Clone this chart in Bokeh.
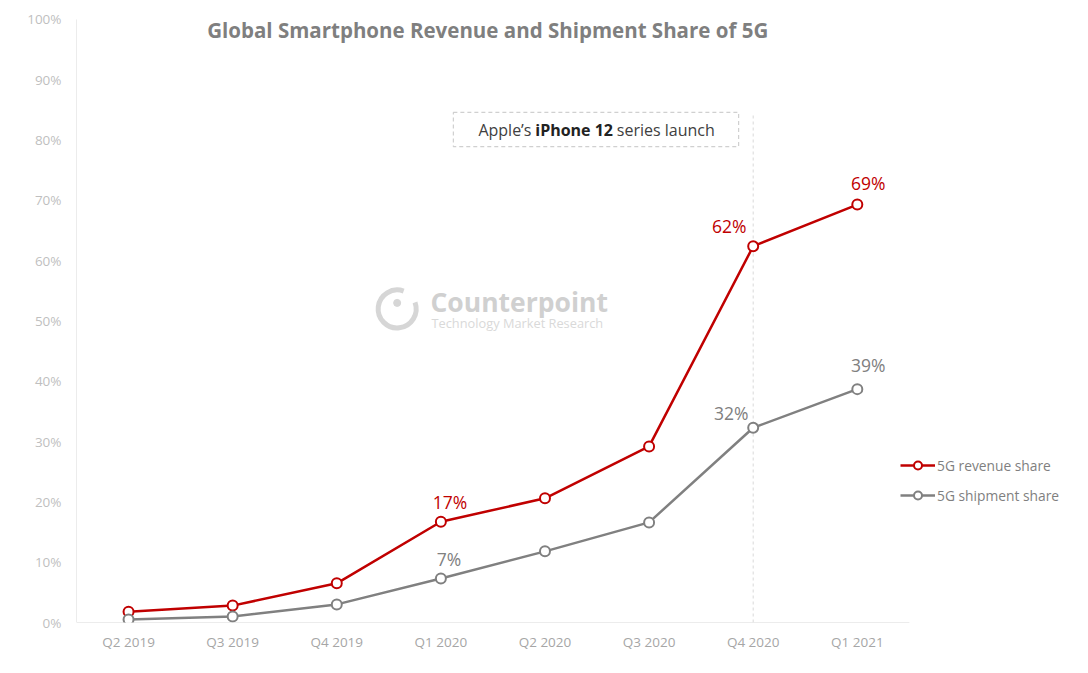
from bokeh.plotting import figure
from bokeh.models import (ColumnDataSource, Label, Legend, LegendItem, Range1d,
                          PrintfTickFormatter, FixedTicker)
from bokeh.core.properties import value
from bokeh.embed import file_html
from bokeh.resources import INLINE

quarters = ["Q2 2019", "Q3 2019", "Q4 2019", "Q1 2020", "Q2 2020", "Q3 2020", "Q4 2020", "Q1 2021"]
revenue_share = [1.8, 2.8, 6.5, 16.7, 20.6, 29.2, 62.4, 69.3]
shipment_share = [0.5, 1.0, 3.0, 7.3, 11.8, 16.6, 32.3, 38.7]
y_ticks = [0, 10, 20, 30, 40, 50, 60, 70, 80, 90, 100]
labelled = ["Q1 2020", "Q4 2020", "Q1 2021"]
launch_quarter = "Q4 2020"

RED = "#c00000"
GRAY = "#808080"
FONT = "Open Sans"

# category centres on a numeric scale (category i sits at i + 0.5)
xpos = [i + 0.5 for i in range(len(quarters))]
n = len(quarters)

p = figure(width=1072, height=665, x_range=Range1d(0, 9.567), y_range=Range1d(0, 101.82),
           output_backend="svg", toolbar_location=None,
           min_border_left=76, min_border_top=8, min_border_bottom=43, min_border_right=0)
p.outline_line_color = None
p.xgrid.visible = False
p.ygrid.visible = False
p.background_fill_color = "white"

# axes
p.yaxis.ticker = FixedTicker(ticks=y_ticks)
p.yaxis.formatter = PrintfTickFormatter(format="%d%%")
p.yaxis.axis_line_color = None
p.yaxis.major_tick_line_color = None
p.yaxis.minor_tick_line_color = None
p.yaxis.major_label_text_color = "#bfbfbf"
p.yaxis.major_label_text_font = FONT
p.yaxis.major_label_text_font_size = "13.5px"
p.yaxis.major_label_standoff = 9
p.xaxis.ticker = FixedTicker(ticks=xpos)
p.xaxis.major_label_overrides = {x: q for x, q in zip(xpos, quarters)}
p.xaxis.axis_line_color = None
p.xaxis.major_tick_line_color = None
p.xaxis.minor_tick_line_color = None
p.xaxis.major_label_text_color = "#a6a6a6"
p.xaxis.major_label_text_font = FONT
p.xaxis.major_label_text_font_size = "13.5px"
p.xaxis.major_label_standoff = 4

# axis lines spanning only the category band and 0-100%
p.segment(x0=[0, 0], y0=[0, 0], x1=[n, 0], y1=[0, 100], line_color="#d9d9d9", line_width=1)

# launch marker line
lx = xpos[quarters.index(launch_quarter)]
p.segment(x0=[lx], y0=[0], x1=[lx], y1=[84.4],
          line_color="#d9d9d9", line_dash="3 3", line_width=1)

# annotation box
p.quad(left=[3.62], right=[6.36], top=[84.6], bottom=[78.9], fill_color=None,
       line_color="#d0d0d0", line_dash="4 3", line_width=1.2)
p.add_layout(Label(x=4.37, y=81.6, text="Apple\u2019s", text_font=FONT, text_font_size="16px",
                   text_color="#404040", text_baseline="middle", text_align="right"))
p.add_layout(Label(x=4.78, y=81.6, text="iPhone 12", text_font=FONT, text_font_size="16px",
                   text_font_style="bold", text_color="#222222", text_baseline="middle",
                   text_align="center"))
p.add_layout(Label(x=5.19, y=81.6, text="series launch", text_font=FONT, text_font_size="16px",
                   text_color="#404040", text_baseline="middle"))

# watermark
p.arc(x=[3.08], y=[52.0], radius=19, radius_units="screen", start_angle=70, end_angle=380,
      start_angle_units="deg", end_angle_units="deg", line_color="#d6d6d6", line_width=5)
p.scatter(x=[3.08], y=[53.0], size=7, color="#d6d6d6")
p.add_layout(Label(x=3.40, y=53.2, text="Counterpoint", text_font=FONT, text_font_size="26.5px",
                   text_font_style="bold", text_color="#d0d0d0", text_baseline="middle"))
p.add_layout(Label(x=3.41, y=49.6, text="Technology Market Research", text_font=FONT,
                   text_font_size="12.8px", text_color="#d9d9d9", text_baseline="middle"))

# title
p.add_layout(Label(x=3.95, y=98.3, text="Global Smartphone Revenue and Shipment Share of 5G",
                   text_font=FONT, text_font_size="20.5px", text_font_style="bold",
                   text_color="#7f7f7f", text_align="center", text_baseline="middle"))

src = ColumnDataSource(dict(x=xpos, rev=revenue_share, ship=shipment_share))
r_line = p.line("x", "rev", source=src, line_color=RED, line_width=2.5)
r_pts = p.scatter("x", "rev", source=src, size=10, fill_color="white", line_color=RED, line_width=2)
s_line = p.line("x", "ship", source=src, line_color=GRAY, line_width=2.5)
s_pts = p.scatter("x", "ship", source=src, size=10, fill_color="white", line_color=GRAY, line_width=2)

# data labels
rev_off = {"Q1 2020": (9, -20), "Q4 2020": (-24, -20), "Q1 2021": (11, -22)}
ship_off = {"Q1 2020": (8, -19), "Q4 2020": (-22, -15), "Q1 2021": (11, -24)}
for vals, offs, col in [(revenue_share, rev_off, RED), (shipment_share, ship_off, GRAY)]:
    xs, ys, ts, xo, yo = [], [], [], [], []
    for q in labelled:
        i = quarters.index(q)
        v = vals[i]
        xs.append(xpos[i]); ys.append(v); ts.append(f"{round(v)}%")
        xo.append(offs[q][0]); yo.append(offs[q][1])
    ls = ColumnDataSource(dict(x=xs, y=ys, t=ts, xo=xo, yo=yo))
    p.text("x", "y", text="t", source=ls, x_offset="xo", y_offset="yo",
           text_font=value(FONT), text_font_size="17.5px", text_color=col,
           text_align="center", text_baseline="middle")

legend = Legend(items=[LegendItem(label="5G revenue share", renderers=[r_line, r_pts]),
                       LegendItem(label="5G shipment share", renderers=[s_line, s_pts])],
                location=(824, 117), orientation="vertical",
                label_text_font=FONT, label_text_font_size="13.8px", label_text_color="#7f7f7f",
                glyph_width=35, glyph_height=20, label_standoff=2, spacing=10,
                padding=0, margin=0, border_line_color=None, background_fill_alpha=0)
p.add_layout(legend, "center")

open("out.html", "w").write(file_html(p, INLINE))
